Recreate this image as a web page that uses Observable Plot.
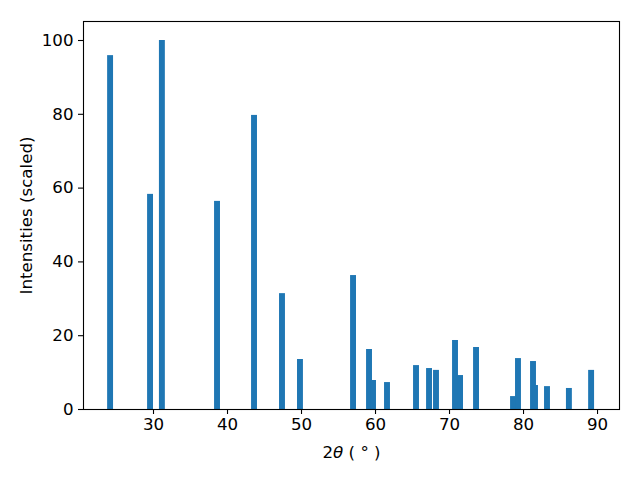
<!DOCTYPE html>
<html>
<head>
<meta charset="utf-8">
<script src="https://cdn.jsdelivr.net/npm/d3@7"></script>
<script src="https://cdn.jsdelivr.net/npm/@observablehq/plot@0.6"></script>
<style>
  html, body { margin: 0; padding: 0; background: #fff; }
  #chart svg text { font-family: "DejaVu Sans", sans-serif !important; font-size: 16.67px !important; fill: #000; }
</style>
</head>
<body>
<div id="chart"></div>
<script>
const twoTheta = [24.2, 29.6, 31.2, 38.65, 43.65, 47.43, 49.86, 57.03, 59.19, 59.73, 61.62, 65.54, 67.3, 68.24, 70.81, 71.49, 73.65, 78.65, 79.32, 81.35, 81.62, 83.24, 86.2, 89.2];
const intensity = [95.9, 58.3, 100, 56.4, 79.7, 31.4, 13.55, 36.3, 16.26, 7.86, 7.3, 11.9, 11.1, 10.6, 18.7, 9.2, 16.8, 3.5, 13.8, 13.0, 6.5, 6.2, 5.7, 10.6];
const xTicks = [30, 40, 50, 60, 70, 80, 90];
const yTicks = [0, 20, 40, 60, 80, 100];
const xLabel = "2θ ( ° )";
const yLabel = "Intensities (scaled)";

const peaks = twoTheta.map((t, i) => ({t, v: intensity[i]}));
const barWidth = 0.8;

const chart = Plot.plot({
  width: 640,
  height: 480,
  marginLeft: 83,
  marginRight: 21,
  marginTop: 21,
  marginBottom: 71,
  style: {fontFamily: "DejaVu Sans", fontSize: "16.67px", background: "#fff", color: "#000"},
  x: {domain: [20.54, 92.97]},
  y: {domain: [0, 105.15]},
  marks: [
    Plot.rectY(peaks, {x1: d => d.t - barWidth / 2, x2: d => d.t + barWidth / 2, y: "v", fill: "#1f77b4", inset: 0}),
    Plot.frame({stroke: "#000", strokeWidth: 1.1}),
    Plot.axisX(xTicks, {tickSize: 5, tickPadding: 4, label: null, stroke: "#000", strokeWidth: 1.1, fontSize: 16.67}),
    Plot.axisY(yTicks, {tickSize: 5, tickPadding: 5, label: null, stroke: "#000", strokeWidth: 1.1, fontSize: 16.67}),
    Plot.text([xLabel], {frameAnchor: "bottom", dy: 43, textAnchor: "middle", lineAnchor: "middle", text: d => d, fontSize: 16.67, fill: "#000", className: "xlab"}),
    Plot.text([yLabel], {frameAnchor: "left", dx: -57, rotate: -90, textAnchor: "middle", lineAnchor: "middle", text: d => d, fontSize: 16.67, fill: "#000"})
  ]
});
document.getElementById("chart").appendChild(chart);

// render theta in italic (mathtext style)
d3.select(chart).selectAll("g.xlab text").each(function() {
  const t = d3.select(this);
  const s = t.text();
  const i = s.indexOf("θ");
  if (i < 0) return;
  t.text(null);
  t.append("tspan").text(s.slice(0, i));
  t.append("tspan").attr("font-style", "italic").text("θ");
  t.append("tspan").text(s.slice(i + 1));
});
</script>
</body>
</html>
